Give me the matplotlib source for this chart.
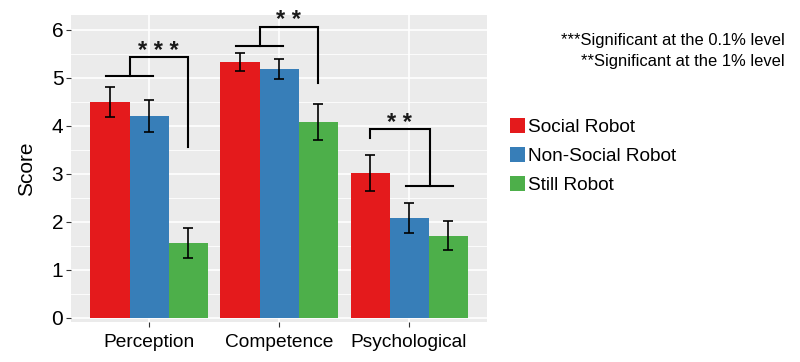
"""
Robot type scores by category, ggplot-like bar chart with significance brackets
"""

import matplotlib
matplotlib.use('Agg')
import numpy as np
import matplotlib.pyplot as plt
from matplotlib.patches import Patch
from matplotlib.ticker import MultipleLocator

plt.rcParams['font.family'] = ['Liberation Sans', 'DejaVu Sans']

categories = ['Perception', 'Competence', 'Psychological']
series_names = ['Social Robot', 'Non-Social Robot', 'Still Robot']
social = [4.49, 5.33, 3.02]
social_err = [0.31, 0.18, 0.38]
nonsocial = [4.21, 5.19, 2.08]
nonsocial_err = [0.33, 0.21, 0.31]
still = [1.55, 4.08, 1.71]
still_err = [0.31, 0.37, 0.30]

# brackets: (left x, left y, left is pair, right x, right y, right is pair, top y, stars)
brackets = [
    (0.85, 5.04, True, 1.30, 3.55, False, 5.43, '* * *'),
    (1.85, 5.67, True, 2.30, 4.89, False, 6.06, '* *'),
    (2.70, 3.75, False, 3.16, 2.75, True, 3.93, '* *'),
]
notes = ['***Significant at the 0.1% level', '**Significant at the 1% level']

colors = ['#E41A1C', '#377EB8', '#4DAF4A']


def draw_bracket(ax, b):
    lx, ly, lpair, rx, ry, rpair, top, stars = b
    ax.plot([lx, lx, rx, rx], [ly, top, top, ry], c='black', lw=1.5,
            solid_joinstyle='miter', zorder=4)
    half = 0.18
    if lpair:
        ax.plot([lx - half, lx + half], [ly, ly], c='black', lw=1.5, zorder=4)
    if rpair:
        ax.plot([rx - half, rx + half], [ry, ry], c='black', lw=1.5, zorder=4)
    # asterisks sit high in the glyph box, so anchor on the baseline
    ax.text((lx + rx) / 2, top - 0.01, stars, ha='center', va='baseline',
            fontsize=17, fontweight='bold', color='#1a1a1a', zorder=5)


def main():
    fig = plt.figure(figsize=(8, 3.62), dpi=100)
    ax = fig.add_axes([71 / 800, 40 / 362, 416 / 800, 307 / 362])
    ax.set_facecolor('#EBEBEB')

    x = np.arange(1, len(categories) + 1)
    width = 0.3
    all_vals = [social, nonsocial, still]
    all_errs = [social_err, nonsocial_err, still_err]
    for i, (vals, errs) in enumerate(zip(all_vals, all_errs)):
        pos = x + (i - 1) * width
        ax.bar(pos, vals, width=width, color=colors[i], zorder=2,
               label=series_names[i])
        ax.errorbar(pos, vals, yerr=errs, fmt='none', ecolor='black',
                    elinewidth=1.2, capsize=3.6, capthick=1.2, zorder=3)

    for b in brackets:
        draw_bracket(ax, b)

    ax.set_xlim(0.4, 3.6)
    ax.set_ylim(-0.09, 6.31)
    ax.set_xticks(x)
    ax.set_xticklabels(categories, fontsize=13.8)
    ax.yaxis.set_major_locator(MultipleLocator(1))
    ax.yaxis.set_minor_locator(MultipleLocator(0.5))
    ax.tick_params(axis='y', which='major', labelsize=15, length=3.5,
                   color='#333333', pad=2)
    ax.tick_params(axis='y', which='minor', length=0)
    ax.tick_params(axis='x', length=3.5, color='#333333', pad=5)
    ax.grid(which='major', color='white', lw=1.2, zorder=0)
    ax.grid(which='minor', axis='y', color='white', lw=0.6, zorder=0)
    ax.set_axisbelow(True)
    for s in ax.spines.values():
        s.set_visible(False)

    ax.set_ylabel('Score', fontsize=15)
    ax.yaxis.set_label_coords(-0.085, 0.5)

    handles = [Patch(facecolor=c, edgecolor='none') for c in colors]
    fig.legend(handles, series_names, loc='center left',
               bbox_to_anchor=(510 / 800, 1 - 156 / 362), frameon=False,
               fontsize=13.7, handlelength=0.8, handleheight=0.8,
               handletextpad=0.15, labelspacing=0.58, borderpad=0,
               borderaxespad=0)

    fig.text(785 / 800, 1 - 40.7 / 362, notes[0], ha='right', va='center',
             fontsize=11.9)
    fig.text(785 / 800, 1 - 61.7 / 362, notes[1], ha='right', va='center',
             fontsize=11.9)

    plt.savefig('out.png', dpi=100)


if __name__ == '__main__':
    main()
